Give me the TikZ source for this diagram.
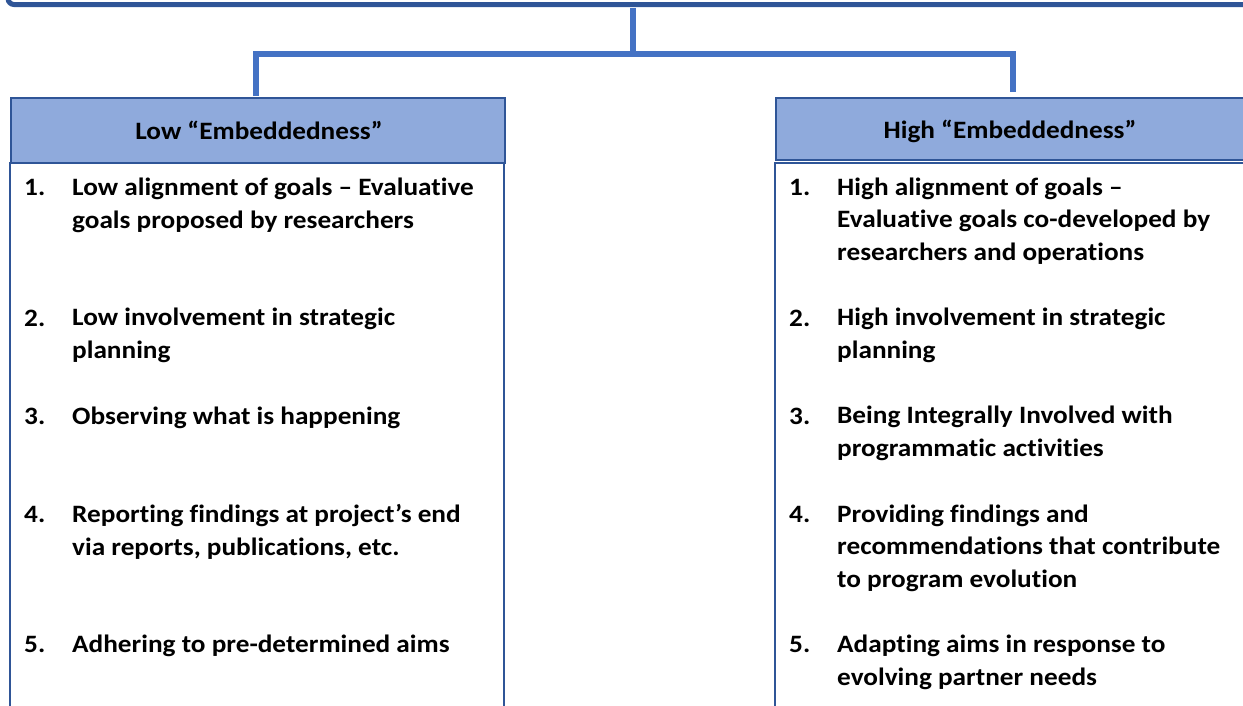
\documentclass[tikz,border=0pt]{standalone}
\usepackage{fontspec}
\setmainfont{Carlito}[FakeStretch=1.09,Ligatures={NoCommon}]
\definecolor{dkblue}{HTML}{2F5597}
\definecolor{conn}{HTML}{4472C4}
\definecolor{hdrfill}{HTML}{8FAADC}
\begin{document}
\begin{tikzpicture}[x=1pt,y=-1pt,
  conline/.style={conn,line width=6pt},
  hdrbox/.style={draw=dkblue,line width=1.5pt,fill=hdrfill},
  listbox/.style={draw=dkblue,line width=1.2pt,fill=white},
  hdrtext/.style={font=\fontsize{25}{30}\selectfont\bfseries,anchor=base,inner sep=0pt},
  num/.style={font=\fontsize{25}{32.5}\selectfont\bfseries,anchor=base west,inner sep=0pt},
  item/.style={font=\fontsize{25}{32.5}\selectfont\bfseries,anchor=base west,inner sep=0pt,align=left}]
\useasboundingbox (0,0) rectangle (1243,705);
% top box (cut off)
\draw[dkblue,line width=5pt,rounded corners=6pt] (8,-60) rectangle (1262,4.5);
% connectors
\coordinate (top) at (633,8);
\coordinate (mid) at (633,54);
\coordinate (lh) at (256,54);
\coordinate (rh) at (1013,54);
% boxes
\draw[listbox] (10,163) rectangle (504,720);
\draw[hdrbox] (11,98) rectangle (505,163);
\draw[listbox] (775,163) rectangle (1260,720);
\draw[hdrbox] (776,98) rectangle (1260,160);
\coordinate (lb) at (256,96);
\coordinate (rb) at (1013,92);
\draw[conline] (top) -- (mid);
\draw[conline] (lb) -- (lh) -- (rh) -- (rb);
\node[hdrtext] (lhdr) at (259,139) {Low “Embeddedness”};
\node[hdrtext] (rhdr) at (1010,138) {High “Embeddedness”};
% left items (anchored at last line baseline)
\node[num] (l1n) at (24,195) {1.};
\node[item] (l1) at (72,228) {Low alignment of goals – Evaluative\\goals proposed by researchers};
\node[num] (l2n) at (24,326) {2.};
\node[item] (l2) at (72,358) {Low involvement in strategic\\planning};
\node[num] (l3n) at (24,424) {3.};
\node[item] (l3) at (72,424) {Observing what is happening};
\node[num] (l4n) at (24,522) {4.};
\node[item] (l4) at (72,555) {Reporting findings at project’s end\\via reports, publications, etc.};
\node[num] (l5n) at (24,652) {5.};
\node[item] (l5) at (72,652) {Adhering to pre-determined aims};
% right items
\node[num] (r1n) at (789,195) {1.};
\node[item] (r1) at (837,260) {High alignment of goals –\\Evaluative goals co-developed by\\researchers and operations};
\node[num] (r2n) at (789,326) {2.};
\node[item] (r2) at (837,358) {High involvement in strategic\\planning};
\node[num] (r3n) at (789,424) {3.};
\node[item] (r3) at (837,456) {Being Integrally Involved with\\programmatic activities};
\node[num] (r4n) at (789,522) {4.};
\node[item] (r4) at (837,587) {Providing findings and\\recommendations that contribute\\to program evolution};
\node[num] (r5n) at (789,652) {5.};
\node[item] (r5) at (837,685) {Adapting aims in response to\\evolving partner needs};
\end{tikzpicture}
\end{document}
